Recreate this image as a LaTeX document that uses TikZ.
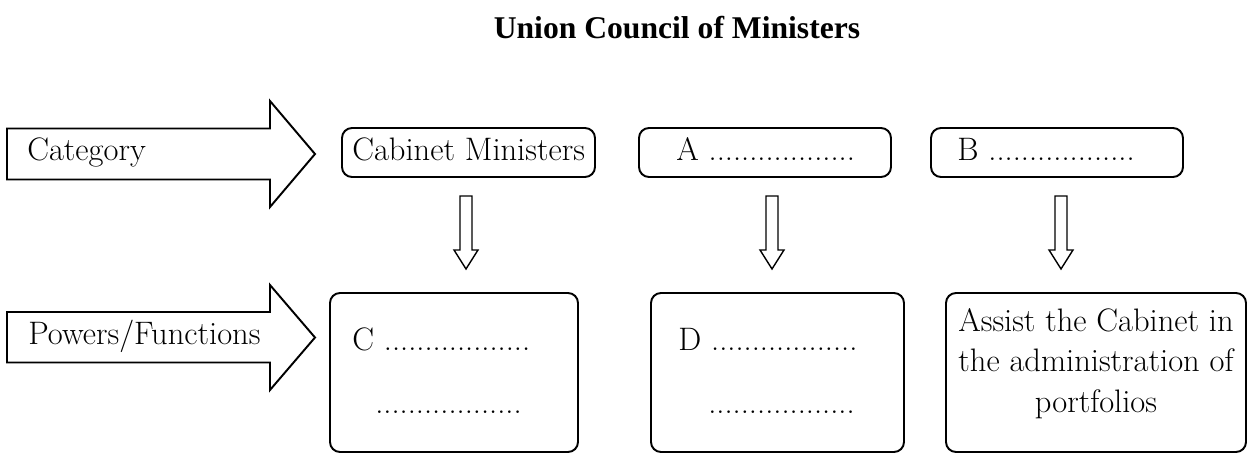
\documentclass[tikz,border=0pt]{standalone}
\usepackage{fontspec}
\newfontfamily\titlefont{Liberation Serif}
\usetikzlibrary{calc}

\newcommand{\dotrow}{..................}

\tikzset{
    box/.style={draw, line width=1.1pt, rounded corners=0.2cm, inner sep=0pt},
    txt/.style={anchor=base west, inner sep=0pt},
    downarr/.pic={\draw[line width=0.8pt] (-0.12,0) -- (-0.12,-1.08) -- (-0.24,-1.08) -- (0,-1.46) -- (0.24,-1.08) -- (0.12,-1.08) -- (0.12,0) -- cycle;}
}

\begin{document}
\begin{tikzpicture}[font=\fontsize{18.5}{22}\selectfont]
    \useasboundingbox (0,0) rectangle (24.94,9.08);
    \node[anchor=base, font=\titlefont\bfseries\fontsize{18}{22}\selectfont] (title) at (13.54,8.32) {Union Council of Ministers};
    % category row
    \draw[line width=1.1pt] (0.14,6.51) -- (5.4,6.51) -- (5.4,7.06) -- (6.3,6.0) -- (5.4,4.94) -- (5.4,5.49) -- (0.14,5.49) -- cycle;
    \node[txt] (cat) at (0.54,5.87) {Category};
    \node[box, minimum width=5.06cm, minimum height=0.98cm] (cabmin) at (9.37,6.03) {};
    \node[txt] at (7.04,5.88) {Cabinet Ministers};
    \node[box, minimum width=5.04cm, minimum height=0.98cm] (catA) at (15.3,6.03) {};
    \node[txt] at (13.52,5.88) {A \dotrow};
    \node[box, minimum width=5.04cm, minimum height=0.98cm] (catB) at (21.14,6.03) {};
    \node[txt] at (19.14,5.88) {B \dotrow};
    % powers row
    \draw[line width=1.1pt] (0.14,2.84) -- (5.4,2.84) -- (5.4,3.38) -- (6.3,2.33) -- (5.4,1.28) -- (5.4,1.83) -- (0.14,1.83) -- cycle;
    \node[txt] (pow) at (0.56,2.2) {Powers/Functions};
    \node[box, minimum width=4.96cm, minimum height=3.18cm] (powC) at (9.08,1.63) {};
    \node[txt] at (7.04,2.08) {C \dotrow};
    \node[txt] at (7.5,0.82) {\dotrow};
    \node[box, minimum width=5.06cm, minimum height=3.18cm] (powD) at (15.55,1.63) {};
    \node[txt] at (13.56,2.08) {D \dotrow};
    \node[txt] at (14.16,0.82) {\dotrow};
    \node[box, minimum width=6cm, minimum height=3.18cm] (powE) at (21.92,1.63) {};
    \node[anchor=base, align=center, inner sep=0pt, font=\fontsize{18.5}{22.8}\selectfont] at (21.92,0.84) {Assist the Cabinet in\\the administration of\\portfolios};
    % arrows between rows
    \pic at ($(cabmin.south)+(-0.05,-0.36)$) {downarr};
    \pic at ($(catA.south)+(0.14,-0.36)$) {downarr};
    \pic at ($(catB.south)+(0.08,-0.36)$) {downarr};
\end{tikzpicture}
\end{document}
